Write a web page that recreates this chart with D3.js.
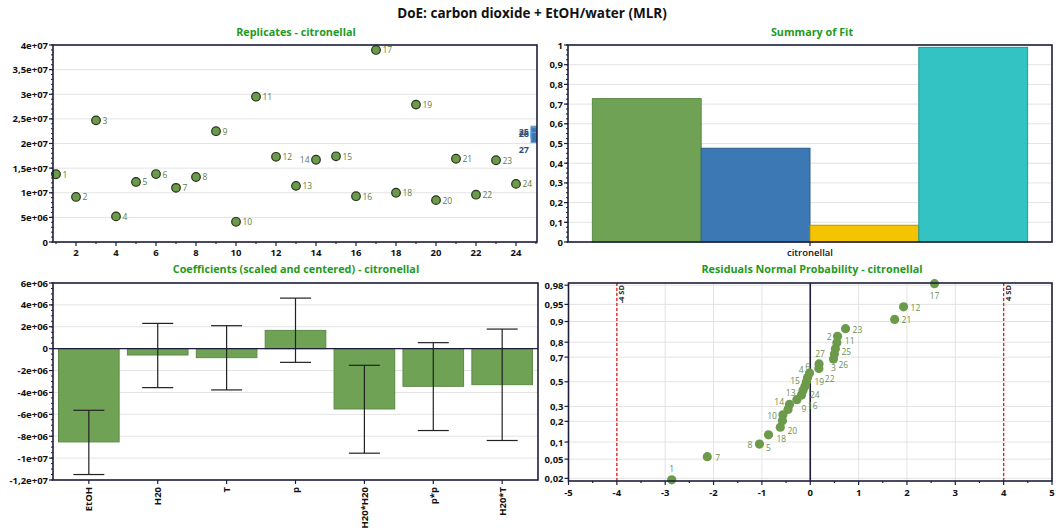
<!DOCTYPE html>
<html><head><meta charset="utf-8">
<script src="https://cdn.jsdelivr.net/npm/d3@7"></script>
<style>
body{margin:0;background:#fff}
svg{display:block}
text{font-family:'Open Sans',sans-serif}
</style>
</head><body>
<svg id="c" width="1056" height="528"></svg>
<script>
// ---------------- DATA ----------------
const chartTitle = "DoE: carbon dioxide + EtOH/water (MLR)";
const responseName = "citronellal";

// Replicates plot
const replicateRuns = [1,2,3,4,5,6,7,8,9,10,11,12,13,14,15,16,17,18,19,20,21,22,23,24];
const replicateValues = [1.376e7,0.915e7,2.47e7,0.52e7,1.22e7,1.38e7,1.10e7,1.32e7,2.25e7,0.41e7,2.95e7,1.73e7,1.14e7,1.67e7,1.74e7,0.93e7,3.90e7,1.00e7,2.79e7,0.85e7,1.69e7,0.96e7,1.66e7,1.18e7];
const centerRuns = [25,26,27];
const centerValues = [2.25e7,2.22e7,2.12e7];
const replicateXTicks = [2,4,6,8,10,12,14,16,18,20,22,24];
const replicateYTicks = [0,5e6,1e7,1.5e7,2e7,2.5e7,3e7,3.5e7,4e7];

// Summary of fit
const fitMetrics = ["R2","Q2","Model validity","Reproducibility"];
const fitValues = [0.728,0.476,0.085,0.988];
const fitYTicks = [0,0.1,0.2,0.3,0.4,0.5,0.6,0.7,0.8,0.9,1];

// Coefficients
const coefTerms = ["EtOH","H20","T","p","H20*H20","p*p","H20*T"];
const coefValues = [-8.52e6,-0.58e6,-0.82e6,1.67e6,-5.51e6,-3.44e6,-3.29e6];
const coefLow  = [-11.5e6,-3.56e6,-3.77e6,-1.25e6,-9.55e6,-7.48e6,-8.39e6];
const coefHigh = [-5.63e6,2.31e6,2.10e6,4.62e6,-1.52e6,0.55e6,1.79e6];
const coefYTicks = [-1.2e7,-1e7,-8e6,-6e6,-4e6,-2e6,0,2e6,4e6,6e6];

// Residuals normal probability
const residualRuns = [1,2,3,4,5,6,7,8,9,10,11,12,13,14,15,16,17,18,19,20,21,22,23,24,25,26,27];
const residualValues = [-2.865,0.565,0.48,-0.015,-0.863,-0.055,-2.13,-1.05,-0.43,-0.565,0.55,1.93,-0.18,-0.46,-0.11,-0.277,2.57,-0.62,-0.08,-0.575,1.745,0.178,0.73,-0.15,0.52,0.50,0.182];
const probTicks = [0.02,0.05,0.1,0.2,0.3,0.5,0.7,0.8,0.9,0.95,0.98];
const residXTicks = [-5,-4,-3,-2,-1,0,1,2,3,4,5];
const sdLimits = [-4,4];

// ---------------- STYLE / LAYOUT ----------------
const C = {
  frame:"#1e1e3c", grid:"#e3e3e3", title:"#1f9a1f",
  green:"#6fa255", greenStroke:"#5b8b45", dot:"#6b9b4a", dotStroke:"#26331c",
  lbl:"#5d7d45", lbl2:"#6e9050", blue:"#3c78b4", blueStroke:"#2e5f90",
  yellow:"#f5c400", yellowStroke:"#b89300", teal:"#33c3c3", tealStroke:"#229a9a",
  red:"#e02020", centerLbl:"#2c4f7e"
};
const svg = d3.select("#c");
const fmtE = v => {
  if (v === 0) return "0";
  const e = Math.floor(Math.log10(Math.abs(v)) + 1e-9);
  let m = Math.round(v / Math.pow(10, e) * 100) / 100;
  return String(m).replace(".", ",") + "e+" + String(e).padStart(2, "0");
};
const fmtD = v => String(v).replace(".", ",");

function frame(g, x0, y0, x1, y1) {
  g.append("rect").attr("x", x0).attr("y", y0).attr("width", x1 - x0).attr("height", y1 - y0)
    .attr("fill", "none").attr("stroke", C.frame).attr("stroke-width", 1.6);
}
function hGrid(g, ticks, y, x0, x1) {
  g.selectAll(null).data(ticks).join("line")
    .attr("x1", x0).attr("x2", x1).attr("y1", d => y(d)).attr("y2", d => y(d))
    .attr("stroke", C.grid).attr("stroke-width", 1);
}
function yTicks(g, ticks, y, x, fmt, minorStep, domain) {
  g.selectAll(null).data(ticks).join("line")
    .attr("x1", x - 4).attr("x2", x).attr("y1", d => y(d)).attr("y2", d => y(d))
    .attr("stroke", C.frame).attr("stroke-width", 1.2);
  g.selectAll(null).data(ticks).join("text")
    .attr("x", x - 5).attr("y", d => y(d) + 3.5).attr("text-anchor", "end")
    .attr("font-size", 9.5).attr("font-weight", 700).attr("fill", "#111").text(fmt);
  if (minorStep) {
    const minors = d3.range(domain[0], domain[1] + minorStep / 2, minorStep);
    g.selectAll(null).data(minors).join("line")
      .attr("x1", x - 2).attr("x2", x).attr("y1", d => y(d)).attr("y2", d => y(d))
      .attr("stroke", C.frame).attr("stroke-width", 1);
  }
}
function panelTitle(x, y, t) {
  svg.append("text").attr("x", x).attr("y", y).attr("text-anchor", "middle")
    .attr("font-size", 10.8).attr("font-weight", 700).attr("fill", C.title).text(t);
}

// main title
svg.append("text").attr("x", 532).attr("y", 18).attr("text-anchor", "middle")
  .attr("font-size", 13.5).attr("font-weight", 700).attr("fill", "#111").text(chartTitle);

// ---------------- PANEL 1: Replicates ----------------
{
  const L = 53, R = 537, T = 45, B = 242;
  const x = d3.scaleLinear().domain([0.85, 25.05]).range([L, R]);
  const y = d3.scaleLinear().domain([0, 4e7]).range([B, T]);
  const g = svg.append("g");
  panelTitle(296, 36, "Replicates - " + responseName);
  hGrid(g, replicateYTicks, y, L, R);
  svg.append("clipPath").attr("id", "clip1").append("rect").attr("x", L).attr("y", T).attr("width", R - L).attr("height", B - T);
  g.append("g").attr("clip-path", "url(#clip1)").selectAll(null).data(centerValues).join("rect")
    .attr("x", x(25) - 5).attr("y", d => y(d) - 5).attr("width", 10).attr("height", 10)
    .attr("fill", C.blue).attr("stroke", "#6d9bcc").attr("stroke-width", 1);
  const centerLabelDy = [4, 4, 15];
  g.selectAll(null).data(centerRuns).join("text")
    .attr("x", x(25) - 7).attr("y", (d, i) => y(centerValues[i]) + centerLabelDy[i])
    .attr("text-anchor", "end").attr("font-size", 9).attr("font-weight", 700)
    .attr("fill", C.centerLbl).text(d => d);
  g.selectAll(null).data(replicateRuns).join("circle")
    .attr("cx", d => x(d)).attr("cy", (d, i) => y(replicateValues[i])).attr("r", 4.3)
    .attr("fill", C.dot).attr("stroke", C.dotStroke).attr("stroke-width", 1.2);
  const leftLabel = new Set([14]);
  g.selectAll(null).data(replicateRuns).join("text")
    .attr("x", d => x(d) + (leftLabel.has(d) ? -6.5 : 6.5))
    .attr("y", (d, i) => y(replicateValues[i]) + 3.5)
    .attr("text-anchor", d => leftLabel.has(d) ? "end" : "start")
    .attr("font-size", 8.5).attr("fill", C.lbl).text(d => d);
  frame(g, L, T, R, B);
  yTicks(g, replicateYTicks, y, L, fmtE, 1e6, [0, 4e7]);
  g.selectAll(null).data(d3.range(1, 26)).join("line")
    .attr("x1", d => x(d)).attr("x2", d => x(d)).attr("y1", B).attr("y2", d => B + (d % 2 === 0 ? 4 : 2))
    .attr("stroke", C.frame).attr("stroke-width", 1.2);
  g.selectAll(null).data(replicateXTicks).join("text")
    .attr("x", d => x(d)).attr("y", B + 14).attr("text-anchor", "middle")
    .attr("font-size", 9.5).attr("font-weight", 700).attr("fill", "#111").text(d => d);
}

// ---------------- PANEL 2: Summary of Fit ----------------
{
  const L = 568, R = 1052, T = 45, B = 242;
  const x0 = d3.scaleBand().domain([responseName]).range([L, R]).paddingInner(0).paddingOuter(0.056);
  const x1 = d3.scaleBand().domain(fitMetrics).range([0, x0.bandwidth()]).padding(0);
  const y = d3.scaleLinear().domain([0, 1]).range([B, T]);
  const fills = [C.green, C.blue, C.yellow, C.teal];
  const strokes = [C.greenStroke, C.blueStroke, C.yellowStroke, C.tealStroke];
  const g = svg.append("g");
  panelTitle(812, 36, "Summary of Fit");
  hGrid(g, fitYTicks, y, L, R);
  g.selectAll(null).data(fitMetrics).join("rect")
    .attr("x", d => x0(responseName) + x1(d)).attr("width", x1.bandwidth())
    .attr("y", (d, i) => y(fitValues[i])).attr("height", (d, i) => B - y(fitValues[i]))
    .attr("fill", (d, i) => fills[i]).attr("stroke", (d, i) => strokes[i]).attr("stroke-width", 1);
  frame(g, L, T, R, B);
  yTicks(g, fitYTicks, y, L, fmtD, 0.025, [0, 1]);
  const cx = x0(responseName) + x0.bandwidth() / 2;
  g.append("line").attr("x1", cx).attr("x2", cx).attr("y1", B).attr("y2", B + 4).attr("stroke", C.frame).attr("stroke-width", 1.2);
  g.append("text").attr("x", cx).attr("y", B + 14).attr("text-anchor", "middle")
    .attr("font-size", 9.5).attr("font-weight", 600).attr("fill", "#111").text(responseName);
}

// ---------------- PANEL 3: Coefficients ----------------
{
  const L = 53, R = 538, T = 283, B = 480;
  const x = d3.scaleBand().domain(coefTerms).range([L, R]).paddingInner(0.12).paddingOuter(0.08);
  const y = d3.scaleLinear().domain([-1.2e7, 6e6]).range([B, T]);
  const g = svg.append("g");
  panelTitle(296, 273, "Coefficients (scaled and centered) - " + responseName);
  hGrid(g, coefYTicks, y, L, R);
  g.selectAll(null).data(coefTerms).join("rect")
    .attr("x", d => x(d)).attr("width", x.bandwidth())
    .attr("y", (d, i) => Math.min(y(0), y(coefValues[i])))
    .attr("height", (d, i) => Math.abs(y(coefValues[i]) - y(0)))
    .attr("fill", C.green).attr("stroke", C.greenStroke).attr("stroke-width", 1);
  g.append("line").attr("x1", L).attr("x2", R).attr("y1", y(0)).attr("y2", y(0)).attr("stroke", C.frame).attr("stroke-width", 1.4);
  const eb = g.append("g").attr("stroke", "#222").attr("stroke-width", 1.2);
  coefTerms.forEach((t, i) => {
    const cx = x(t) + x.bandwidth() / 2;
    eb.append("line").attr("x1", cx).attr("x2", cx).attr("y1", y(coefLow[i])).attr("y2", y(coefHigh[i]));
    [coefLow[i], coefHigh[i]].forEach(v => eb.append("line").attr("x1", cx - 15.5).attr("x2", cx + 15.5).attr("y1", y(v)).attr("y2", y(v)));
  });
  frame(g, L, T, R, B);
  yTicks(g, coefYTicks, y, L, fmtE, 5e5, [-1.2e7, 6e6]);
  g.selectAll(null).data(coefTerms).join("line")
    .attr("x1", d => x(d) + x.bandwidth() / 2).attr("x2", d => x(d) + x.bandwidth() / 2)
    .attr("y1", B).attr("y2", B + 4).attr("stroke", C.frame).attr("stroke-width", 1.2);
  g.selectAll(null).data(coefTerms).join("text")
    .attr("transform", d => `translate(${x(d) + x.bandwidth() / 2 + 3.5},${B + 7}) rotate(-90)`)
    .attr("text-anchor", "end").attr("font-size", 9.5).attr("font-weight", 700).attr("fill", "#111").text(d => d);
}

// ---------------- PANEL 4: Residuals Normal Probability ----------------
{
  const L = 568.5, R = 1052, T = 283, B = 481;
  function qnorm(p) {
    const a = [-3.969683028665376e+01, 2.209460984245205e+02, -2.759285104469687e+02, 1.383577518672690e+02, -3.066479806614716e+01, 2.506628277459239e+00];
    const b = [-5.447609879822406e+01, 1.615858368580409e+02, -1.556989798598866e+02, 6.680131188771972e+01, -1.328068155288572e+01];
    const c = [-7.784894002430293e-03, -3.223964580411365e-01, -2.400758277161838e+00, -2.549732539343734e+00, 4.374664141464968e+00, 2.938163982698783e+00];
    const d = [7.784695709041462e-03, 3.224671290700398e-01, 2.445134137142996e+00, 3.754408661907416e+00];
    const pl = 0.02425;
    if (p < pl) { const q = Math.sqrt(-2 * Math.log(p)); return (((((c[0]*q+c[1])*q+c[2])*q+c[3])*q+c[4])*q+c[5]) / ((((d[0]*q+d[1])*q+d[2])*q+d[3])*q+1); }
    if (p > 1 - pl) { const q = Math.sqrt(-2 * Math.log(1 - p)); return -(((((c[0]*q+c[1])*q+c[2])*q+c[3])*q+c[4])*q+c[5]) / ((((d[0]*q+d[1])*q+d[2])*q+d[3])*q+1); }
    const q = p - 0.5, r = q * q;
    return (((((a[0]*r+a[1])*r+a[2])*r+a[3])*r+a[4])*r+a[5]) * q / (((((b[0]*r+b[1])*r+b[2])*r+b[3])*r+b[4])*r+1);
  }
  const x = d3.scaleLinear().domain([-5, 5]).range([L, R]);
  const yq = d3.scaleLinear().domain([-2.11, 2.10]).range([B, T]);
  const y = p => yq(qnorm(p));
  const n = residualValues.length;
  const order = d3.range(n).sort((a, b) => residualValues[a] - residualValues[b]);
  const rankOf = new Array(n);
  order.forEach((idx, r) => rankOf[idx] = r + 1);
  const pts = residualRuns.map((run, i) => ({ run, x: x(residualValues[i]), y: y((rankOf[i] - 0.5) / n) }));

  const g = svg.append("g");
  panelTitle(812, 273, "Residuals Normal Probability - " + responseName);
  hGrid(g, probTicks, y, L, R);
  g.selectAll(null).data(residXTicks).join("line")
    .attr("x1", d => x(d)).attr("x2", d => x(d)).attr("y1", T).attr("y2", B)
    .attr("stroke", C.grid).attr("stroke-width", 1);
  g.append("line").attr("x1", x(0)).attr("x2", x(0)).attr("y1", T).attr("y2", B).attr("stroke", C.frame).attr("stroke-width", 1.6);
  g.selectAll(null).data(sdLimits).join("line")
    .attr("x1", d => x(d)).attr("x2", d => x(d)).attr("y1", T).attr("y2", B)
    .attr("stroke", C.red).attr("stroke-width", 1.3).attr("stroke-dasharray", "3,2");
  g.selectAll(null).data(sdLimits).join("text")
    .attr("transform", d => `translate(${x(d) + 7},${T + 2}) rotate(-90)`)
    .attr("text-anchor", "end").attr("font-size", 7.5).attr("font-weight", 700).attr("fill", "#222")
    .text(d => d + " SD");
  g.selectAll(null).data(pts).join("circle")
    .attr("cx", d => d.x).attr("cy", d => d.y).attr("r", 4.6).attr("fill", C.dot);
  // label placement: [dx, dy, anchor]
  const place = {
    1:[0,-8,"middle"],7:[8,4,"start"],8:[-7,4,"end"],5:[0,16,"middle"],18:[1,15,"middle"],
    20:[5,13,"start"],10:[-6,4,"end"],14:[-4,-4,"end"],9:[12,8,"start"],16:[11,9,"start"],
    13:[-6,1,"end"],24:[7,7,"start"],15:[-5,-2,"end"],19:[8,3,"start"],6:[0,-7,"middle"],
    4:[-6,0,"end"],22:[6,14,"start"],27:[1,-7,"middle"],3:[0,12,"middle"],26:[4,14,"start"],
    25:[6,6,"start"],11:[8,1,"start"],2:[-6,4,"end"],23:[7,4,"start"],21:[7,4,"start"],
    12:[7,4,"start"],17:[0,15,"middle"]
  };
  g.selectAll(null).data(pts).join("text")
    .attr("x", d => d.x + place[d.run][0]).attr("y", d => d.y + place[d.run][1])
    .attr("text-anchor", d => place[d.run][2])
    .attr("font-size", 8.5).attr("fill", C.lbl2).text(d => d.run);
  frame(g, L, T, R, B);
  g.selectAll(null).data(probTicks).join("line")
    .attr("x1", L - 4).attr("x2", L).attr("y1", d => y(d)).attr("y2", d => y(d))
    .attr("stroke", C.frame).attr("stroke-width", 1.2);
  g.selectAll(null).data(probTicks).join("text")
    .attr("x", L - 5).attr("y", d => y(d) + 3.5).attr("text-anchor", "end")
    .attr("font-size", 9.5).attr("font-weight", 700).attr("fill", "#111").text(fmtD);
  g.selectAll(null).data(d3.range(-5, 5.01, 0.5)).join("line")
    .attr("x1", d => x(d)).attr("x2", d => x(d)).attr("y1", B).attr("y2", d => B + (Number.isInteger(d) ? 4 : 2))
    .attr("stroke", C.frame).attr("stroke-width", 1.2);
  g.selectAll(null).data(residXTicks).join("text")
    .attr("x", d => x(d)).attr("y", B + 15).attr("text-anchor", "middle")
    .attr("font-size", 9.5).attr("font-weight", 700).attr("fill", "#111").text(d => d);
}
</script>
</body></html>
